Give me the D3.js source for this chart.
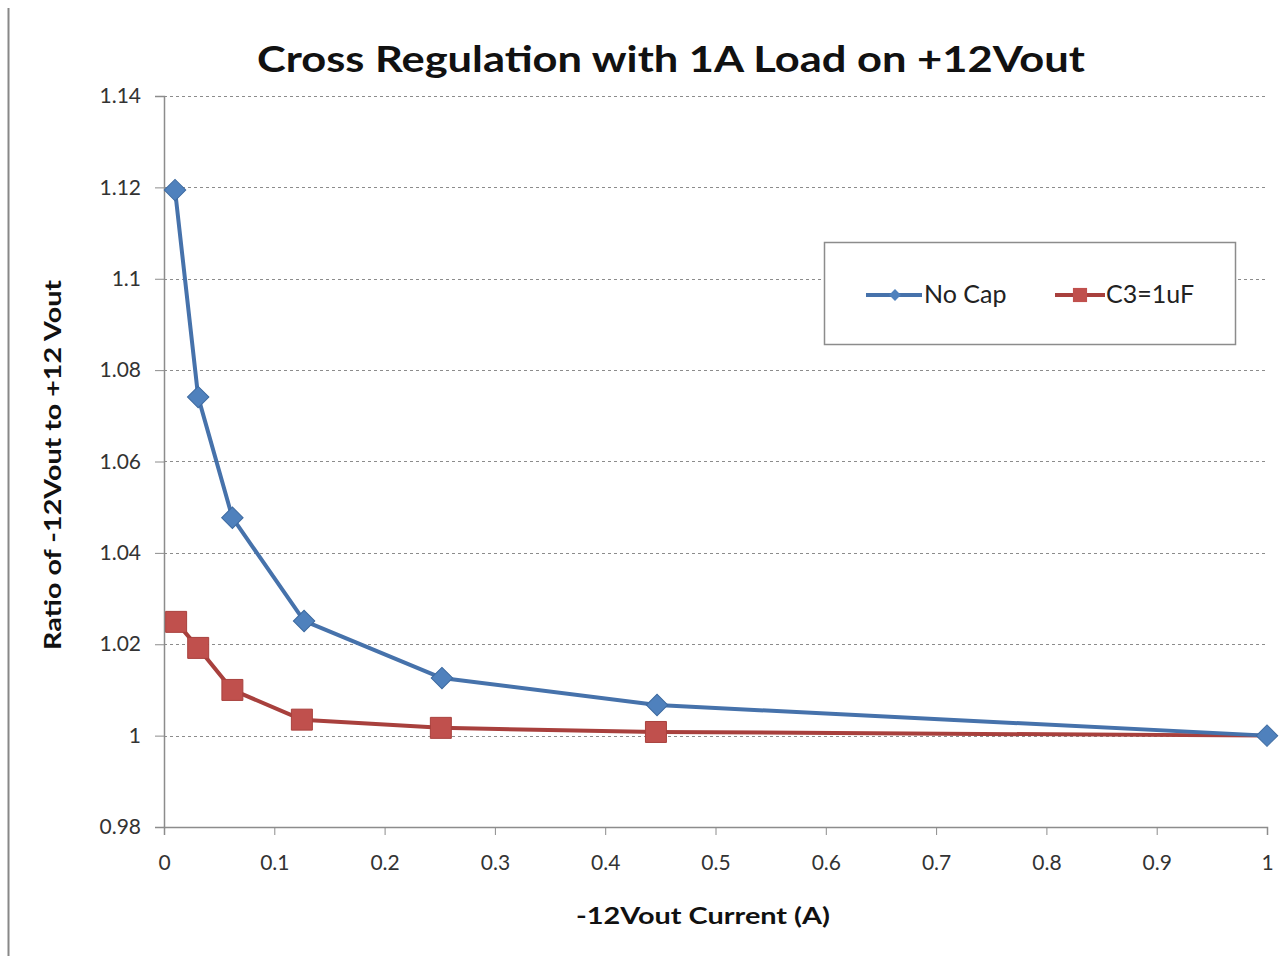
<!DOCTYPE html>
<html>
<head>
<meta charset="utf-8">
<script src="https://cdn.jsdelivr.net/npm/d3@7"></script>
<style>
  html, body { margin: 0; padding: 0; background: #fff; }
  svg { display: block; }
  text { font-family: Lato, "Open Sans", sans-serif; }
</style>
</head>
<body>
<svg id="chart" width="1285" height="956"></svg>
<script>
const title = "Cross Regulation with 1A Load on +12Vout";
const xTitle = "-12Vout Current (A)";
const yTitle = "Ratio of -12Vout to +12 Vout";
const seriesNames = ["No Cap", "C3=1uF"];
const xNoCap = [0.01, 0.031, 0.062, 0.127, 0.252, 0.447, 1];
const yNoCap = [1.1194, 1.0741, 1.0477, 1.0251, 1.0126, 1.0067, 1.0];
const xCap = [0.011, 0.031, 0.062, 0.125, 0.251, 0.446, 1];
const yCap = [1.0249, 1.0192, 1.0100, 1.0035, 1.0017, 1.0008, 1.0];
const xTicks = [0, 0.1, 0.2, 0.3, 0.4, 0.5, 0.6, 0.7, 0.8, 0.9, 1];
const yTicks = [0.98, 1, 1.02, 1.04, 1.06, 1.08, 1.1, 1.12, 1.14];

const svg = d3.select("#chart");
const L = 164, R = 1267, T = 96, B = 827;
const x = d3.scaleLinear().domain([0, 1]).range([L, R]);
const y = d3.scaleLinear().domain([0.98, 1.14]).range([B, T]);

// left border line
svg.append("line").attr("x1", 8.5).attr("x2", 8.5).attr("y1", 8).attr("y2", 956)
  .attr("stroke", "#888").attr("stroke-width", 2);

// gridlines
svg.append("g").selectAll("line").data(yTicks.filter(d => d > 0.981)).join("line")
  .attr("x1", L).attr("x2", R)
  .attr("y1", d => Math.round(y(d)) + 0.5).attr("y2", d => Math.round(y(d)) + 0.5)
  .attr("stroke", "#8c8c8c").attr("stroke-width", 1).attr("stroke-dasharray", "3,3");

// y axis
const yAxis = d3.axisLeft(y).tickValues(yTicks).tickSize(9).tickPadding(14)
  .tickFormat(d => d3.format("")(+d.toFixed(2)));
const gy = svg.append("g").attr("transform", `translate(${L},0)`).call(yAxis);
gy.select(".domain").attr("stroke", "#8c8c8c").attr("stroke-width", 1.5);
gy.selectAll(".tick line").attr("stroke", "#8c8c8c");
gy.selectAll(".tick text").attr("fill", "#333").style("font-size", "21px")
  .style("font-family", "Lato, 'Open Sans', sans-serif");

// x axis
const xAxis = d3.axisBottom(x).tickValues(xTicks).tickSize(8).tickPadding(20)
  .tickFormat(d => d3.format("")(+d.toFixed(1)));
const gx = svg.append("g").attr("transform", `translate(0,${B})`).call(xAxis);
gx.select(".domain").attr("stroke", "#8c8c8c").attr("stroke-width", 1.5);
gx.selectAll(".tick line").attr("stroke", "#8c8c8c");
gx.selectAll(".tick text").attr("fill", "#333").style("font-size", "21px")
  .style("font-family", "Lato, 'Open Sans', sans-serif");

const blueLine = "#4672ab", blueMark = "#4f81bd";
const redLine = "#a8403d", redMark = "#c0504d";

const line = d3.line().x(d => x(d[0])).y(d => y(d[1]));
const noCap = xNoCap.map((v, i) => [v, yNoCap[i]]);
const cap = xCap.map((v, i) => [v, yCap[i]]);

svg.append("path").datum(cap).attr("d", line).attr("fill", "none")
  .attr("stroke", redLine).attr("stroke-width", 4).attr("stroke-linejoin", "round");
svg.append("path").datum(noCap).attr("d", line).attr("fill", "none")
  .attr("stroke", blueLine).attr("stroke-width", 4).attr("stroke-linejoin", "round");

const sq = d3.symbol().type(d3.symbolSquare).size(440);
const dm = d3.symbol().type(d3.symbolSquare).size(230);

// red markers (the last one is hidden under the blue diamond in the reference)
svg.append("g").selectAll("path").data(cap.slice(0, -1)).join("path")
  .attr("transform", d => `translate(${x(d[0])},${y(d[1])})`)
  .attr("d", sq).attr("fill", redMark).attr("stroke", "#a8403d").attr("stroke-width", 1);
svg.append("g").selectAll("path").data(noCap).join("path")
  .attr("transform", d => `translate(${x(d[0])},${y(d[1])}) rotate(45)`)
  .attr("d", dm).attr("fill", blueMark).attr("stroke", "#3d6aa0").attr("stroke-width", 1);

// legend
svg.append("rect").attr("x", 824.5).attr("y", 242.5).attr("width", 411).attr("height", 102)
  .attr("fill", "#fff").attr("stroke", "#8c8c8c").attr("stroke-width", 1.5);
const lg = [
  {x1: 866, x2: 922, mx: 895, tx: 924, color: blueLine, mark: blueMark, sym: d3.symbol().type(d3.symbolSquare).size(70), rot: 45, name: seriesNames[0]},
  {x1: 1055, x2: 1105, mx: 1080, tx: 1106, color: redLine, mark: redMark, sym: d3.symbol().type(d3.symbolSquare).size(200), rot: 0, name: seriesNames[1]}
];
lg.forEach(s => {
  svg.append("line").attr("x1", s.x1).attr("x2", s.x2).attr("y1", 295).attr("y2", 295)
    .attr("stroke", s.color).attr("stroke-width", 4);
  svg.append("path").attr("transform", `translate(${s.mx},295) rotate(${s.rot})`).attr("d", s.sym).attr("fill", s.mark);
  svg.append("text").attr("x", s.tx).attr("y", 303).attr("fill", "#222")
    .style("font-size", "25px").text(s.name);
});

// titles
svg.append("text").attr("x", 671).attr("y", 72).attr("text-anchor", "middle")
  .attr("fill", "#111").style("font-size", "37px").style("font-weight", "bold")
  .attr("textLength", 828).attr("lengthAdjust", "spacingAndGlyphs").text(title);
svg.append("text").attr("x", 703).attr("y", 924).attr("text-anchor", "middle")
  .attr("fill", "#111").style("font-size", "23px").style("font-weight", "bold")
  .attr("textLength", 254).attr("lengthAdjust", "spacingAndGlyphs").text(xTitle);
svg.append("text").attr("transform", "translate(61,465) rotate(-90)").attr("text-anchor", "middle")
  .attr("fill", "#111").style("font-size", "23px").style("font-weight", "bold")
  .attr("textLength", 370).attr("lengthAdjust", "spacingAndGlyphs").text(yTitle);
</script>
</body>
</html>
